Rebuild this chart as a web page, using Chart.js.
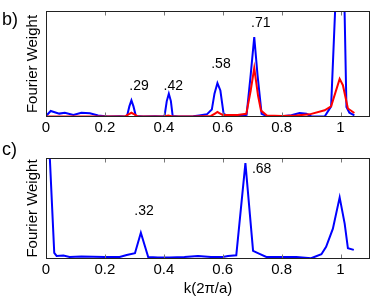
<!DOCTYPE html>
<html>
<head>
<meta charset="utf-8">
<script src="https://cdn.jsdelivr.net/npm/chart.js@4/dist/chart.umd.min.js"></script>
<style>
  body { margin: 0; background: #fff; }
  #wrap { position: relative; width: 374px; height: 300px; }
  canvas { position: absolute; left: 0; }
  #chartB { top: 0; }
  #chartC { top: 140px; }
</style>
</head>
<body>
<div id="wrap">
  <canvas id="chartB" width="374" height="140"></canvas>
  <canvas id="chartC" width="374" height="160"></canvas>
</div>
<script>
// x ticks, shared by both panels
var xTicks = [0, 0.2, 0.4, 0.6, 0.8, 1];

// panel b) : blue curve
var kTopBlue = [0, 0.016, 0.045, 0.064, 0.093, 0.12, 0.149, 0.177, 0.21, 0.25, 0.27, 0.276, 0.283, 0.29, 0.297, 0.305,
  0.33, 0.37, 0.40, 0.403, 0.41, 0.417, 0.424, 0.43, 0.45, 0.5, 0.52, 0.546, 0.563, 0.572, 0.582, 0.592, 0.603, 0.62,
  0.65, 0.681, 0.695, 0.707, 0.718, 0.732, 0.75, 0.8, 0.833, 0.861, 0.884, 0.9, 0.946, 0.968, 0.983, 0.998, 1.013,
  1.02, 1.03, 1.047];
var wTopBlue = [0.01, 0.057, 0.032, 0.04, 0.019, 0.04, 0.035, 0.015, 0.005, 0.008, 0.005, 0.02, 0.1, 0.157, 0.1, 0.01,
  0.005, 0.008, 0.005, 0.02, 0.15, 0.22, 0.15, 0.01, 0.004, 0.008, 0.015, 0.025, 0.07, 0.22, 0.32, 0.25, 0.03, 0.008,
  0.008, 0.02, 0.4, 0.755, 0.4, 0.03, 0.008, 0.008, 0.016, 0.038, 0.03, 0.008, 0.005, 0.1, 1.1, 1.5, 1.1,
  0.094, 0.04, 0.016];

// panel b) : red curve
var kTopRed = [0, 0.1, 0.2, 0.27, 0.28, 0.29, 0.30, 0.31, 0.4, 0.415, 0.43, 0.5, 0.56, 0.575, 0.582, 0.59, 0.6, 0.65,
  0.68, 0.695, 0.707, 0.72, 0.73, 0.75, 0.8, 0.85, 0.895, 0.946, 0.968, 0.997, 1.008, 1.025, 1.047];
var wTopRed = [0.005, 0.005, 0.005, 0.008, 0.025, 0.04, 0.025, 0.008, 0.005, 0.015, 0.005, 0.005, 0.01, 0.035, 0.047,
  0.035, 0.02, 0.02, 0.03, 0.25, 0.462, 0.2, 0.06, 0.015, 0.01, 0.015, 0.025, 0.063, 0.1, 0.36, 0.3, 0.08, 0.038];

// panel c) : blue curve
var kBottom = [0.005, 0.028, 0.036, 0.059, 0.08, 0.12, 0.16, 0.2, 0.25, 0.274, 0.302, 0.322, 0.347, 0.38, 0.42, 0.47,
  0.516, 0.56, 0.6, 0.618, 0.646, 0.677, 0.703, 0.725, 0.748, 0.8, 0.85, 0.9, 0.935, 0.951, 0.974, 0.997, 1.014,
  1.025, 1.045];
var wBottom = [1.5, 0.06, 0.03, 0.035, 0.02, 0.025, 0.022, 0.02, 0.02, 0.04, 0.057, 0.26, 0.02, 0.015, 0.015, 0.02,
  0.03, 0.02, 0.02, 0.03, 0.037, 0.95, 0.08, 0.05, 0.02, 0.02, 0.02, 0.007, 0.047, 0.12, 0.3, 0.61, 0.35,
  0.106, 0.09];

// peak annotations (text, k, weight)
var topPeakText = ['.29', '.42', '.58', '.71'];
var topPeakK = [0.316, 0.432, 0.594, 0.729];
var topPeakW = [0.29, 0.29, 0.494, 0.887];
var bottomPeakText = ['.32', '.68'];
var bottomPeakK = [0.333, 0.732];
var bottomPeakW = [0.47, 0.89];

Chart.defaults.font.family = '"Liberation Sans", Arial, sans-serif';
Chart.defaults.color = '#000';

function pts(ks, ws) {
  return ks.map(function (k, i) { return {x: k, y: ws[i]}; });
}

// box, inward ticks, peak labels and panel letter
var framePlugin = {
  id: 'frame',
  afterDatasetsDraw: function (chart, args, opts) {
    var ctx = chart.ctx, a = chart.chartArea, x = chart.scales.x, y = chart.scales.y;
    var l = Math.round(a.left) + 0.5, r = Math.round(a.right) - 0.5;
    var t = Math.round(a.top) + 0.5, b = Math.round(a.bottom) - 0.5;
    ctx.save();
    ctx.lineWidth = 1;
    ctx.strokeStyle = '#777';
    xTicks.forEach(function (v) {
      var px = Math.round(x.getPixelForValue(v)) + 0.5;
      ctx.beginPath();
      ctx.moveTo(px, t); ctx.lineTo(px, t + 4);
      ctx.moveTo(px, b); ctx.lineTo(px, b - 4);
      ctx.stroke();
    });
    ctx.strokeStyle = '#222';
    ctx.strokeRect(l, t, r - l, b - t);

    ctx.fillStyle = '#000';
    ctx.font = '14px "Liberation Sans", Arial, sans-serif';
    ctx.textAlign = 'center';
    ctx.textBaseline = 'middle';
    opts.text.forEach(function (s, i) {
      ctx.fillText(s, x.getPixelForValue(opts.k[i]), y.getPixelForValue(opts.w[i]));
    });

    ctx.font = '18px "Liberation Sans", Arial, sans-serif';
    ctx.textAlign = 'left';
    ctx.textBaseline = 'alphabetic';
    ctx.fillText(opts.panel, 2, opts.panelY);
    ctx.restore();
  }
};

function makeOptions(padTop, axisHeight, showTitle, ann) {
  return {
    responsive: false,
    animation: false,
    layout: {padding: {top: padTop, right: 4, left: 0, bottom: 0}},
    plugins: {legend: {display: false}, tooltip: {enabled: false}, frame: ann},
    elements: {point: {radius: 0}, line: {tension: 0, borderWidth: 2}},
    scales: {
      x: {
        type: 'linear', min: 0, max: 1.1,
        grid: {display: false, drawTicks: false},
        border: {display: false},
        afterBuildTicks: function (s) { s.ticks = xTicks.map(function (v) { return {value: v}; }); },
        afterFit: function (s) { s.height = axisHeight; },
        ticks: {padding: 2, font: {size: 15}, maxRotation: 0,
          callback: function (v) { return String(v); }},
        title: {display: showTitle, text: 'k(2\u03c0/a)', font: {size: 15}, padding: {top: 0, bottom: 2}}
      },
      y: {
        min: 0, max: 1,
        grid: {display: false, drawTicks: false},
        border: {display: false},
        ticks: {display: false},
        afterFit: function (s) { s.width = 46; },
        title: {display: true, text: 'Fourier Weight', font: {size: 15}, padding: {top: 24, bottom: 0}}
      }
    }
  };
}

new Chart(document.getElementById('chartB'), {
  type: 'line',
  data: {
    datasets: [
      {data: pts(kTopRed, wTopRed), borderColor: '#ff0000', order: 0},
      {data: pts(kTopBlue, wTopBlue), borderColor: '#0000ff', order: 1}
    ]
  },
  options: makeOptions(11, 23, false,
    {text: topPeakText, k: topPeakK, w: topPeakW, panel: 'b)', panelY: 25}),
  plugins: [framePlugin]
});

new Chart(document.getElementById('chartC'), {
  type: 'line',
  data: {
    datasets: [
      {data: pts(kBottom, wBottom), borderColor: '#0000ff'}
    ]
  },
  options: makeOptions(18, 41, true,
    {text: bottomPeakText, k: bottomPeakK, w: bottomPeakW, panel: 'c)', panelY: 15}),
  plugins: [framePlugin]
});
</script>
</body>
</html>
